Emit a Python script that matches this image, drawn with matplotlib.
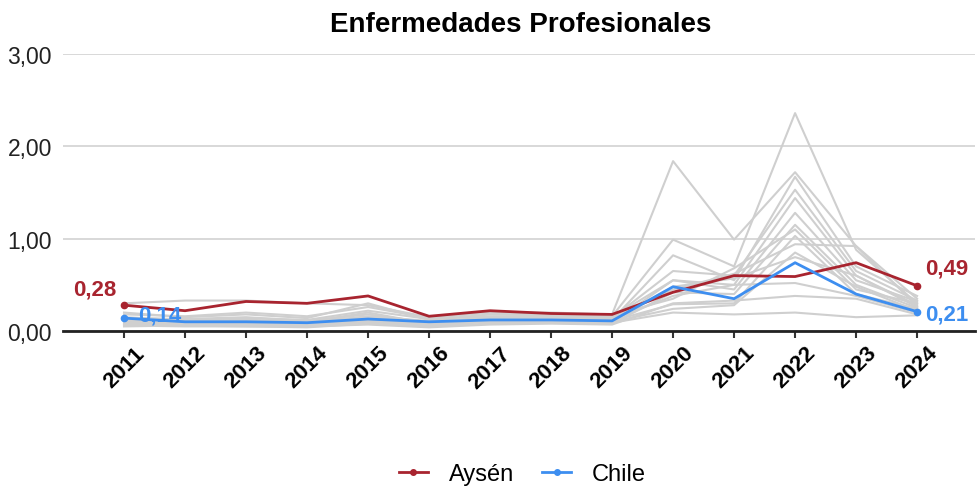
import matplotlib
matplotlib.use("Agg")
import matplotlib.pyplot as plt
from matplotlib.lines import Line2D

plt.rcParams['font.family'] = ['Liberation Sans', 'DejaVu Sans']

years = list(range(2011, 2025))
aysen = [0.28, 0.22, 0.32, 0.30, 0.38, 0.16, 0.22, 0.19, 0.18, 0.42, 0.60, 0.59, 0.74, 0.49]
chile = [0.14, 0.10, 0.10, 0.09, 0.13, 0.10, 0.12, 0.12, 0.11, 0.48, 0.35, 0.74, 0.40, 0.21]

others = [
    [0.30, 0.33, 0.33, 0.30, 0.28, 0.15, 0.20, 0.20, 0.18, 1.84, 0.99, 1.72, 0.92, 0.35],
    [0.20, 0.15, 0.18, 0.14, 0.30, 0.12, 0.18, 0.17, 0.16, 0.99, 0.70, 2.36, 0.88, 0.30],
    [0.10, 0.08, 0.09, 0.08, 0.12, 0.10, 0.12, 0.13, 0.12, 0.82, 0.55, 1.67, 0.70, 0.38],
    [0.12, 0.10, 0.12, 0.10, 0.20, 0.08, 0.14, 0.15, 0.14, 0.65, 0.60, 1.53, 0.65, 0.33],
    [0.08, 0.07, 0.06, 0.05, 0.10, 0.06, 0.10, 0.10, 0.09, 0.55, 0.50, 1.44, 0.60, 0.28],
    [0.15, 0.12, 0.14, 0.12, 0.22, 0.13, 0.16, 0.16, 0.15, 0.55, 0.45, 1.28, 0.55, 0.32],
    [0.06, 0.05, 0.05, 0.04, 0.08, 0.05, 0.08, 0.09, 0.08, 0.42, 0.40, 1.15, 0.50, 0.25],
    [0.18, 0.16, 0.20, 0.16, 0.26, 0.14, 0.20, 0.19, 0.17, 0.35, 0.68, 1.10, 0.45, 0.30],
    [0.10, 0.12, 0.10, 0.08, 0.14, 0.10, 0.13, 0.12, 0.11, 0.29, 0.30, 1.03, 0.40, 0.24],
    [0.14, 0.13, 0.15, 0.11, 0.18, 0.09, 0.15, 0.14, 0.13, 0.45, 0.62, 0.94, 0.92, 0.27],
    [0.07, 0.09, 0.07, 0.06, 0.10, 0.07, 0.11, 0.11, 0.10, 0.24, 0.28, 0.85, 0.48, 0.22],
    [0.12, 0.11, 0.12, 0.09, 0.16, 0.11, 0.14, 0.13, 0.12, 0.38, 0.50, 0.52, 0.38, 0.20],
    [0.05, 0.06, 0.05, 0.05, 0.07, 0.04, 0.07, 0.08, 0.07, 0.30, 0.33, 0.38, 0.35, 0.18],
    [0.09, 0.08, 0.08, 0.07, 0.11, 0.08, 0.10, 0.10, 0.09, 0.20, 0.18, 0.20, 0.15, 0.17],
    [0.11, 0.10, 0.11, 0.10, 0.15, 0.09, 0.12, 0.12, 0.11, 0.48, 0.57, 0.80, 0.60, 0.26],
]

yticks = [0, 1, 2, 3]
ytick_labels = ["0,00", "1,00", "2,00", "3,00"]

RED = "#a8242f"
BLUE = "#3d8ef0"
GRAY = "#cfcfcf"

fig = plt.figure(figsize=(9.77, 4.89), dpi=100)
ax = fig.add_axes([0.0645, 0.321, 0.9335, 0.5665])

for s in others:
    ax.plot(years, s, color=GRAY, lw=1.5, zorder=2)

ax.plot(years, aysen, color=RED, lw=2, zorder=4)
ax.plot(years, chile, color=BLUE, lw=2, zorder=4)
ax.plot([years[0], years[-1]], [aysen[0], aysen[-1]], 'o', color=RED, ms=4.5, zorder=5)
ax.plot([years[0], years[-1]], [chile[0], chile[-1]], 'o', color=BLUE, ms=4.5, zorder=5)

def fmt(v):
    return f"{v:.2f}".replace(".", ",")

lbl = dict(textcoords='offset points', ha='center', va='center', fontsize=16, fontweight='bold', zorder=6)
ax.annotate(fmt(aysen[0]), (years[0], aysen[0]), xytext=(-21, 12), color=RED, **lbl)
ax.annotate(fmt(chile[0]), (years[0], chile[0]), xytext=(26, 2), color=BLUE, **lbl)
ax.annotate(fmt(aysen[-1]), (years[-1], aysen[-1]), xytext=(21.5, 13), color=RED, **lbl)
ax.annotate(fmt(chile[-1]), (years[-1], chile[-1]), xytext=(21, -2), color=BLUE, **lbl)

ax.set_xlim(2010, 2024.95)
ax.set_ylim(0, 3)
ax.set_yticks(yticks)
ax.set_yticklabels(ytick_labels, fontsize=16.5, color="#222222")
ax.tick_params(axis='y', length=0, pad=8)
ax.set_xticks(years)
ax.set_xticklabels([str(y) for y in years], rotation=45, fontsize=16, fontweight='bold')
ax.tick_params(axis='x', length=5, width=1.5, color='#333333', pad=3)

ax.grid(axis='y', color='#d6d6d6', lw=1.3, zorder=0)
ax.set_axisbelow(True)
for sp in ['top', 'right', 'left']:
    ax.spines[sp].set_visible(False)
ax.spines['bottom'].set_color('#222222')
ax.spines['bottom'].set_linewidth(2)

fig.text(0.533, 0.949, "Enfermedades Profesionales", ha='center', va='center',
         fontsize=20, fontweight='bold')

handles = [Line2D([0], [0], color=RED, lw=2, marker='o', ms=4),
           Line2D([0], [0], color=BLUE, lw=2, marker='o', ms=4)]
fig.legend(handles, ["Aysén", "Chile"], loc='center', bbox_to_anchor=(0.535, 0.029),
           ncol=2, frameon=False, fontsize=17, handlelength=1.2, columnspacing=1.2, handletextpad=0.9)

fig.savefig("out.png", dpi=100)
